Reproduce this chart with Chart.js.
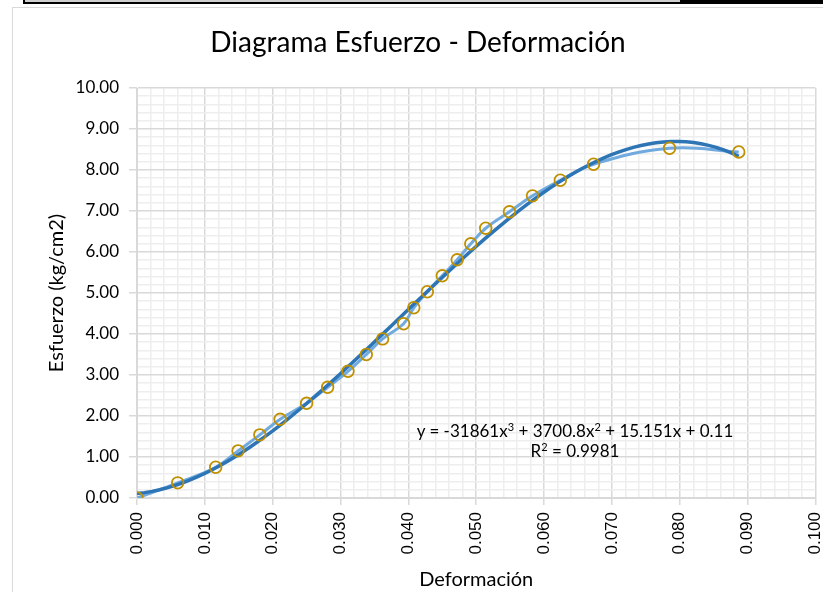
<!DOCTYPE html>
<html>
<head>
<meta charset="utf-8">
<script src="https://cdn.jsdelivr.net/npm/chart.js@4.4.1/dist/chart.umd.min.js"></script>
<style>
  html, body { margin: 0; padding: 0; background: #fff; }
  body { width: 823px; height: 592px; position: relative; overflow: hidden; font-family: Lato, sans-serif; }
  #chart { position: absolute; left: 0; top: 0; }
  .strip-a { position: absolute; left: 23px; top: 0; width: 655px; height: 2px; background: #cfcfcf;
             border-left: 2px solid #000; border-bottom: 2px solid #000; }
  .strip-b { position: absolute; left: 680px; top: 0; width: 143px; height: 4px; background: #000; }
  .frame { position: absolute; left: 12px; top: 7px; width: 830px; height: 600px; border: 1px solid #d9d9d9; pointer-events: none; }
  .title { position: absolute; left: 0; width: 836px; top: 24px; text-align: center; font-size: 28px; color: #000; }
  .eq { position: absolute; left: 385px; width: 380px; top: 421px; text-align: center; font-size: 17px; line-height: 20px; color: #000; }
  .eq sup { font-size: 11px; line-height: 0; vertical-align: 6px; }
</style>
</head>
<body>
<div class="strip-a"></div>
<div class="strip-b"></div>
<div class="frame"></div>
<canvas id="chart" width="823" height="592"></canvas>
<div class="title">Diagrama Esfuerzo - Deformación</div>
<div class="eq">y = -31861x<sup>3</sup> + 3700.8x<sup>2</sup> + 15.151x + 0.11<br>R<sup>2</sup> = 0.9981</div>

<script>
    // ─── DATA ───
    const deformacion = [0, 0.0060, 0.0116, 0.0149, 0.0181, 0.0211, 0.0250, 0.0281, 0.0311, 0.0338,
        0.0362, 0.0393, 0.0408, 0.0428, 0.0450, 0.0472, 0.0492, 0.0514, 0.0549, 0.0583,
        0.0624, 0.0673, 0.0785, 0.0887];
    const esfuerzo = [0, 0.37, 0.75, 1.15, 1.54, 1.92, 2.31, 2.70, 3.09, 3.50,
        3.88, 4.25, 4.64, 5.03, 5.42, 5.81, 6.20, 6.58, 6.98, 7.37,
        7.75, 8.14, 8.53, 8.44];
    // polynomial trendline shown on the chart: a3, a2, a1, a0
    const trendCoef = [-31861, 3700.8, 15.151, 0.11];
    const xTicks = { min: 0, max: 0.1, major: 0.01, minor: 0.002 };
    const yTicks = { min: 0, max: 10, major: 1, minor: 0.2 };

    const points = deformacion.map((x, i) => ({ x: x, y: esfuerzo[i] }));

    // trendline evaluated across the data range
    const trendPts = [];
    const xEnd = deformacion[deformacion.length - 1];
    for (let i = 0; i <= 80; i++) {
        const x = xEnd * i / 80;
        const y = ((trendCoef[0] * x + trendCoef[1]) * x + trendCoef[2]) * x + trendCoef[3];
        trendPts.push({ x: x, y: y });
    }

    const MAJOR = '#d9d9d9', MINOR = '#eeeeee';
    const onMajor = (v, t) => Math.abs(v / t.major - Math.round(v / t.major)) < 1e-6;

    new Chart(document.getElementById('chart').getContext('2d'), {
        type: 'scatter',
        data: {
            datasets: [{
                label: 'Puntos',
                data: points,
                showLine: false,
                pointRadius: 5.8,
                pointBackgroundColor: 'rgba(0,0,0,0)',
                pointBorderColor: '#bf9000',
                pointBorderWidth: 1.8,
                order: 0
            }, {
                label: 'Tendencia',
                data: trendPts,
                showLine: true,
                borderColor: '#2e75b6',
                borderWidth: 3.5,
                pointRadius: 0,
                tension: 0,
                order: 1
            }, {
                label: 'Curva',
                data: points,
                showLine: true,
                borderColor: '#70aadf',
                borderWidth: 3,
                pointRadius: 0,
                tension: 0.4,
                order: 2
            }]
        },
        options: {
            responsive: false,
            animation: false,
            layout: { padding: { left: 0, top: 88, right: 6, bottom: 0 } },
            plugins: { legend: { display: false }, tooltip: { enabled: false } },
            scales: {
                x: {
                    type: 'linear',
                    min: xTicks.min, max: xTicks.max,
                    afterFit: s => { s.height = 94; s.paddingLeft = 0; s.paddingRight = 0; },
                    border: { color: '#d9d9d9', width: 1 },
                    grid: {
                        color: ctx => onMajor(ctx.tick.value, xTicks) ? MAJOR : MINOR,
                        lineWidth: 1.5,
                        tickLength: 7,
                        tickColor: ctx => onMajor(ctx.tick.value, xTicks) ? MAJOR : 'rgba(0,0,0,0)'
                    },
                    ticks: {
                        stepSize: xTicks.minor,
                        autoSkip: false,
                        minRotation: 90, maxRotation: 90,
                        padding: 7,
                        color: '#000',
                        font: { family: 'Liberation Sans', size: 17 },
                        callback: v => onMajor(v, xTicks) ? v.toFixed(3) : ''
                    },
                    title: {
                        display: true, text: 'Deformación', color: '#000',
                        font: { family: 'Lato', size: 20, weight: 'normal' },
                        padding: { top: 0, bottom: 0 }
                    }
                },
                y: {
                    type: 'linear',
                    min: yTicks.min, max: yTicks.max,
                    afterFit: s => { s.width = 137; s.paddingTop = 0; s.paddingBottom = 0; },
                    border: { color: '#d9d9d9', width: 1 },
                    grid: {
                        color: ctx => onMajor(ctx.tick.value, yTicks) ? MAJOR : MINOR,
                        lineWidth: 1.5,
                        tickLength: 8,
                        tickColor: ctx => onMajor(ctx.tick.value, yTicks) ? MAJOR : 'rgba(0,0,0,0)'
                    },
                    ticks: {
                        stepSize: yTicks.minor,
                        autoSkip: false,
                        padding: 10,
                        color: '#000',
                        font: { family: 'Lato', size: 17 },
                        callback: v => onMajor(v, yTicks) ? v.toFixed(2) : ''
                    },
                    title: {
                        display: true, text: 'Esfuerzo (kg/cm2)', color: '#000',
                        font: { family: 'Lato', size: 20, weight: 'normal' },
                        padding: { top: 45, bottom: 0 }
                    }
                }
            }
        }
    });
</script>
</body>
</html>
